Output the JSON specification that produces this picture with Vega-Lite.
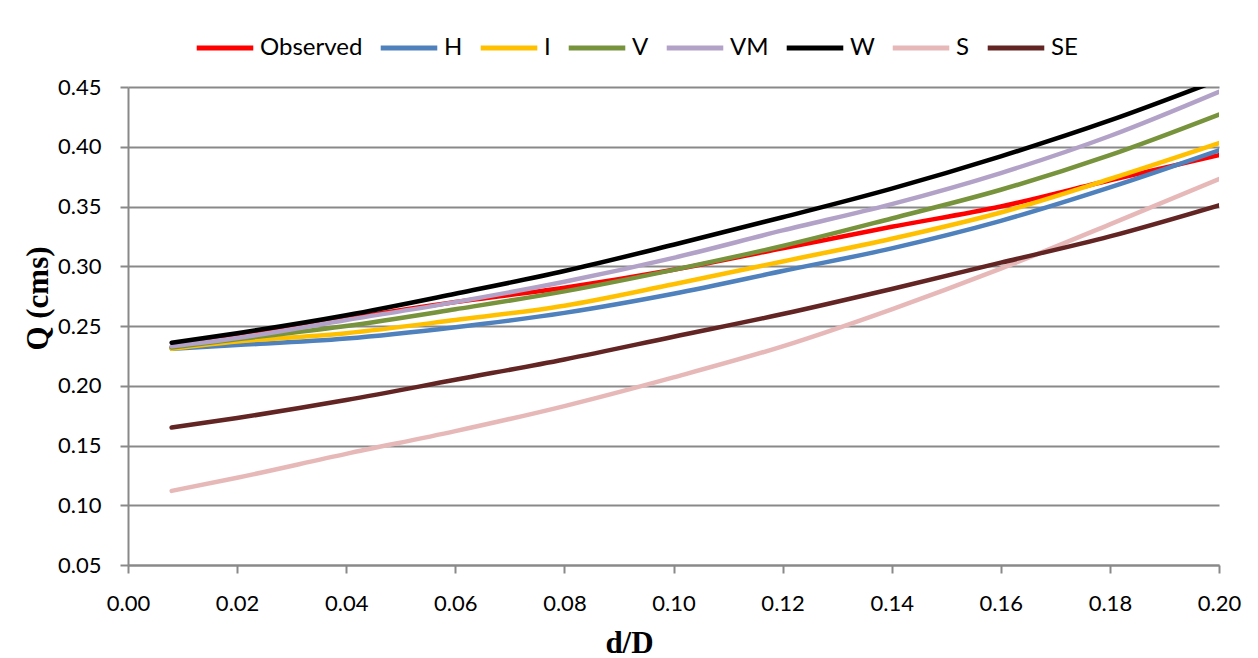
{
  "$schema": "https://vega.github.io/schema/vega-lite/v6.json",
  "autosize": "none",
  "width": 1091,
  "height": 478,
  "padding": {"left": 128, "top": 87, "right": 39, "bottom": 93},
  "background": "white",
  "config": {
    "view": {"stroke": null},
    "font": "Lato"
  },
  "data": {
    "values": [
      {"dD": 0.008, "Q": 0.232, "Series": "Observed"},
      {"dD": 0.02, "Q": 0.241, "Series": "Observed"},
      {"dD": 0.04, "Q": 0.256, "Series": "Observed"},
      {"dD": 0.06, "Q": 0.270, "Series": "Observed"},
      {"dD": 0.08, "Q": 0.282, "Series": "Observed"},
      {"dD": 0.10, "Q": 0.297, "Series": "Observed"},
      {"dD": 0.12, "Q": 0.315, "Series": "Observed"},
      {"dD": 0.14, "Q": 0.333, "Series": "Observed"},
      {"dD": 0.16, "Q": 0.350, "Series": "Observed"},
      {"dD": 0.18, "Q": 0.372, "Series": "Observed"},
      {"dD": 0.20, "Q": 0.393, "Series": "Observed"},
      {"dD": 0.008, "Q": 0.231, "Series": "H"},
      {"dD": 0.02, "Q": 0.234, "Series": "H"},
      {"dD": 0.04, "Q": 0.2395, "Series": "H"},
      {"dD": 0.06, "Q": 0.249, "Series": "H"},
      {"dD": 0.08, "Q": 0.261, "Series": "H"},
      {"dD": 0.10, "Q": 0.277, "Series": "H"},
      {"dD": 0.12, "Q": 0.296, "Series": "H"},
      {"dD": 0.14, "Q": 0.315, "Series": "H"},
      {"dD": 0.16, "Q": 0.338, "Series": "H"},
      {"dD": 0.18, "Q": 0.366, "Series": "H"},
      {"dD": 0.20, "Q": 0.397, "Series": "H"},
      {"dD": 0.008, "Q": 0.231, "Series": "I"},
      {"dD": 0.02, "Q": 0.237, "Series": "I"},
      {"dD": 0.04, "Q": 0.244, "Series": "I"},
      {"dD": 0.06, "Q": 0.255, "Series": "I"},
      {"dD": 0.08, "Q": 0.267, "Series": "I"},
      {"dD": 0.10, "Q": 0.285, "Series": "I"},
      {"dD": 0.12, "Q": 0.304, "Series": "I"},
      {"dD": 0.14, "Q": 0.323, "Series": "I"},
      {"dD": 0.16, "Q": 0.345, "Series": "I"},
      {"dD": 0.18, "Q": 0.373, "Series": "I"},
      {"dD": 0.20, "Q": 0.403, "Series": "I"},
      {"dD": 0.008, "Q": 0.232, "Series": "V"},
      {"dD": 0.02, "Q": 0.239, "Series": "V"},
      {"dD": 0.04, "Q": 0.250, "Series": "V"},
      {"dD": 0.06, "Q": 0.264, "Series": "V"},
      {"dD": 0.08, "Q": 0.279, "Series": "V"},
      {"dD": 0.10, "Q": 0.297, "Series": "V"},
      {"dD": 0.12, "Q": 0.317, "Series": "V"},
      {"dD": 0.14, "Q": 0.340, "Series": "V"},
      {"dD": 0.16, "Q": 0.364, "Series": "V"},
      {"dD": 0.18, "Q": 0.393, "Series": "V"},
      {"dD": 0.20, "Q": 0.427, "Series": "V"},
      {"dD": 0.008, "Q": 0.233, "Series": "VM"},
      {"dD": 0.02, "Q": 0.240, "Series": "VM"},
      {"dD": 0.04, "Q": 0.255, "Series": "VM"},
      {"dD": 0.06, "Q": 0.270, "Series": "VM"},
      {"dD": 0.08, "Q": 0.287, "Series": "VM"},
      {"dD": 0.10, "Q": 0.307, "Series": "VM"},
      {"dD": 0.12, "Q": 0.330, "Series": "VM"},
      {"dD": 0.14, "Q": 0.352, "Series": "VM"},
      {"dD": 0.16, "Q": 0.378, "Series": "VM"},
      {"dD": 0.18, "Q": 0.409, "Series": "VM"},
      {"dD": 0.20, "Q": 0.446, "Series": "VM"},
      {"dD": 0.008, "Q": 0.236, "Series": "W"},
      {"dD": 0.02, "Q": 0.244, "Series": "W"},
      {"dD": 0.04, "Q": 0.259, "Series": "W"},
      {"dD": 0.06, "Q": 0.277, "Series": "W"},
      {"dD": 0.08, "Q": 0.296, "Series": "W"},
      {"dD": 0.10, "Q": 0.318, "Series": "W"},
      {"dD": 0.12, "Q": 0.341, "Series": "W"},
      {"dD": 0.14, "Q": 0.365, "Series": "W"},
      {"dD": 0.16, "Q": 0.392, "Series": "W"},
      {"dD": 0.18, "Q": 0.422, "Series": "W"},
      {"dD": 0.20, "Q": 0.456, "Series": "W"},
      {"dD": 0.008, "Q": 0.112, "Series": "S"},
      {"dD": 0.02, "Q": 0.123, "Series": "S"},
      {"dD": 0.04, "Q": 0.143, "Series": "S"},
      {"dD": 0.06, "Q": 0.162, "Series": "S"},
      {"dD": 0.08, "Q": 0.183, "Series": "S"},
      {"dD": 0.10, "Q": 0.207, "Series": "S"},
      {"dD": 0.12, "Q": 0.233, "Series": "S"},
      {"dD": 0.14, "Q": 0.264, "Series": "S"},
      {"dD": 0.16, "Q": 0.298, "Series": "S"},
      {"dD": 0.18, "Q": 0.335, "Series": "S"},
      {"dD": 0.20, "Q": 0.373, "Series": "S"},
      {"dD": 0.008, "Q": 0.165, "Series": "SE"},
      {"dD": 0.02, "Q": 0.173, "Series": "SE"},
      {"dD": 0.04, "Q": 0.188, "Series": "SE"},
      {"dD": 0.06, "Q": 0.205, "Series": "SE"},
      {"dD": 0.08, "Q": 0.222, "Series": "SE"},
      {"dD": 0.10, "Q": 0.241, "Series": "SE"},
      {"dD": 0.12, "Q": 0.260, "Series": "SE"},
      {"dD": 0.14, "Q": 0.281, "Series": "SE"},
      {"dD": 0.16, "Q": 0.303, "Series": "SE"},
      {"dD": 0.18, "Q": 0.325, "Series": "SE"},
      {"dD": 0.20, "Q": 0.351, "Series": "SE"}
    ]
  },
  "mark": {"type": "line", "interpolate": "monotone", "strokeWidth": 4.5, "clip": true, "strokeCap": "round"},
  "encoding": {
    "x": {
      "field": "dD", "type": "quantitative",
      "scale": {"domain": [0, 0.2], "nice": false, "zero": false},
      "axis": {
        "title": "d/D",
        "values": [0, 0.02, 0.04, 0.06, 0.08, 0.1, 0.12, 0.14, 0.16, 0.18, 0.2],
        "format": ".2f",
        "grid": false,
        "domainColor": "#898989", "domainWidth": 2,
        "tickColor": "#898989", "tickWidth": 2, "tickSize": 8,
        "labelFont": "Lato", "labelFontSize": 22, "labelColor": "#000000", "labelPadding": 20,
        "labelFlush": false,
        "titleFont": "Liberation Serif", "titleFontSize": 31, "titleFontWeight": "bold", "titleColor": "#000000",
        "titleX": 501, "titleY": 87, "titleBaseline": "alphabetic", "titleAlign": "center"
      }
    },
    "y": {
      "field": "Q", "type": "quantitative",
      "scale": {"domain": [0.05, 0.45], "nice": false, "zero": false},
      "axis": {
        "title": "Q (cms)",
        "values": [0.05, 0.1, 0.15, 0.2, 0.25, 0.3, 0.35, 0.4, 0.45],
        "format": ".2f",
        "grid": true, "gridColor": "#898989", "gridWidth": 2,
        "domainColor": "#898989", "domainWidth": 2,
        "tickColor": "#898989", "tickWidth": 2, "tickSize": 8,
        "labelFont": "Lato", "labelFontSize": 22, "labelColor": "#000000", "labelPadding": 19,
        "labelFlush": false,
        "titleFont": "Liberation Serif", "titleFontSize": 31, "titleFontWeight": "bold", "titleColor": "#000000",
        "titleX": -90, "titleY": 211, "titleBaseline": "middle", "titleAlign": "center", "titleAngle": -90
      }
    },
    "color": {
      "field": "Series", "type": "nominal",
      "scale": {
        "domain": ["Observed", "H", "I", "V", "VM", "W", "S", "SE"],
        "range": ["#FF0000", "#4F81BD", "#FFC000", "#77933C", "#B3A2C7", "#000000", "#E6B9B8", "#632523"]
      },
      "legend": {
        "title": null,
        "orient": "none",
        "legendX": 66,
        "legendY": -70,
        "direction": "horizontal",
        "columns": 8,
        "symbolType": "stroke",
        "symbolSize": 3200,
        "symbolStrokeWidth": 5,
        "labelFont": "Lato",
        "labelFontSize": 24,
        "labelColor": "#000000",
        "labelOffset": 4,
        "columnPadding": 7
      }
    }
  }
}
